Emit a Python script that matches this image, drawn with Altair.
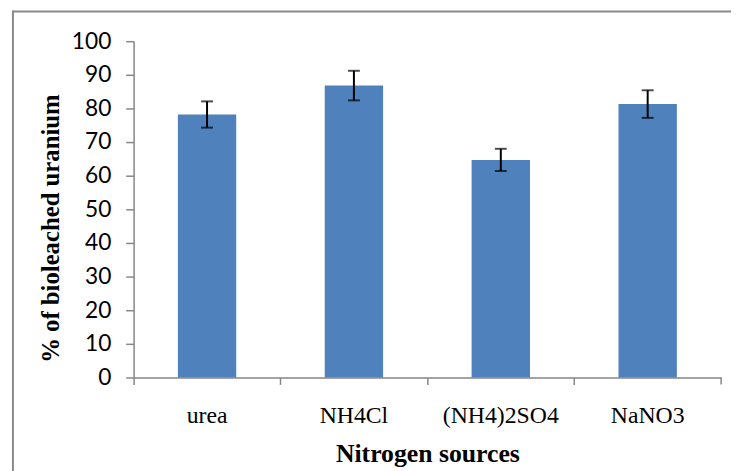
import altair as alt
import pandas as pd

categories = ["urea", "NH4Cl", "(NH4)2SO4", "NaNO3"]
means = [78.2, 86.8, 64.7, 81.3]
errors = [3.9, 4.4, 3.3, 4.1]
y_ticks = [0, 10, 20, 30, 40, 50, 60, 70, 80, 90, 100]

df = pd.DataFrame({"source": categories, "value": means, "err": errors})
df["lo"] = df["value"] - df["err"]
df["hi"] = df["value"] + df["err"]

W, H = 594, 340
AX = "#868686"

x_axis = alt.Axis(
    title="Nitrogen sources",
    bandPosition=0,
    labelAngle=0,
    labelFont="Liberation Serif",
    labelFontSize=24,
    labelColor="#000000",
    labelBaseline="alphabetic",
    labelPadding=39,
    tickSize=7,
    tickColor=AX,
    tickWidth=1.5,
    domainColor=AX,
    domainWidth=1.5,
    titleFont="Liberation Serif",
    titleFontSize=26,
    titleFontWeight="bold",
    titleColor="#000000",
    titleBaseline="alphabetic",
    titleY=85,
)
y_axis = alt.Axis(
    title="% of bioleached uranium",
    values=y_ticks,
    grid=False,
    labelOverlap=False,
    labelFont="Lato",
    labelFontSize=23,
    labelColor="#000000",
    labelPadding=15,
    tickSize=8,
    tickColor=AX,
    tickWidth=1.5,
    domainColor=AX,
    domainWidth=1.5,
    titleFont="Liberation Serif",
    titleFontSize=25,
    titleFontWeight="bold",
    titleColor="#000000",
    titleBaseline="alphabetic",
    titleAlign="center",
    titleX=-76,
    titleY=189,
)

x_scale = alt.Scale(paddingInner=0, paddingOuter=0)
y_scale = alt.Scale(domain=[0, 100], nice=False)


def xe():
    return alt.X("source:N", sort=categories, scale=x_scale, axis=x_axis)


def ye(field):
    return alt.Y(field, type="quantitative", scale=y_scale, axis=y_axis)


bars = alt.Chart(df).mark_bar(size=59, color="#4F81BD").encode(
    x=xe(), y=ye("value")
)
err_rule = alt.Chart(df).mark_rule(color="#000000", strokeWidth=2).encode(
    x=xe(), y=ye("lo"), y2="hi:Q"
)
err_lo = alt.Chart(df).mark_tick(color="#000000", size=12, thickness=2).encode(
    x=xe(), y=ye("lo")
)
err_hi = alt.Chart(df).mark_tick(color="#000000", size=12, thickness=2).encode(
    x=xe(), y=ye("hi")
)

one = alt.Data(values=[{"k": 1}])
end_tick = alt.Chart(one).mark_rule(color=AX, strokeWidth=1.5).encode(
    x=alt.value(W), y=alt.value(H), y2=alt.value(H + 7)
)
frame_top = alt.Chart(one).mark_rule(color="#8a8a8a", strokeWidth=2).encode(
    x=alt.value(-122), x2=alt.value(W + 20), y=alt.value(-30)
)
frame_left = alt.Chart(one).mark_rule(color="#8a8a8a", strokeWidth=2).encode(
    x=alt.value(-122), y=alt.value(-31), y2=alt.value(H + 100)
)

chart = (
    alt.layer(bars, err_rule, err_lo, err_hi, end_tick, frame_top, frame_left)
    .properties(
        width=W,
        height=H,
        autosize=alt.AutoSizeParams(type="none"),
        padding={"left": 127, "top": 31, "right": 10, "bottom": 92},
        background="#ffffff",
    )
    .configure_view(stroke=None)
)

chart.save("out.html", embed_options={"renderer": "svg", "actions": False})
